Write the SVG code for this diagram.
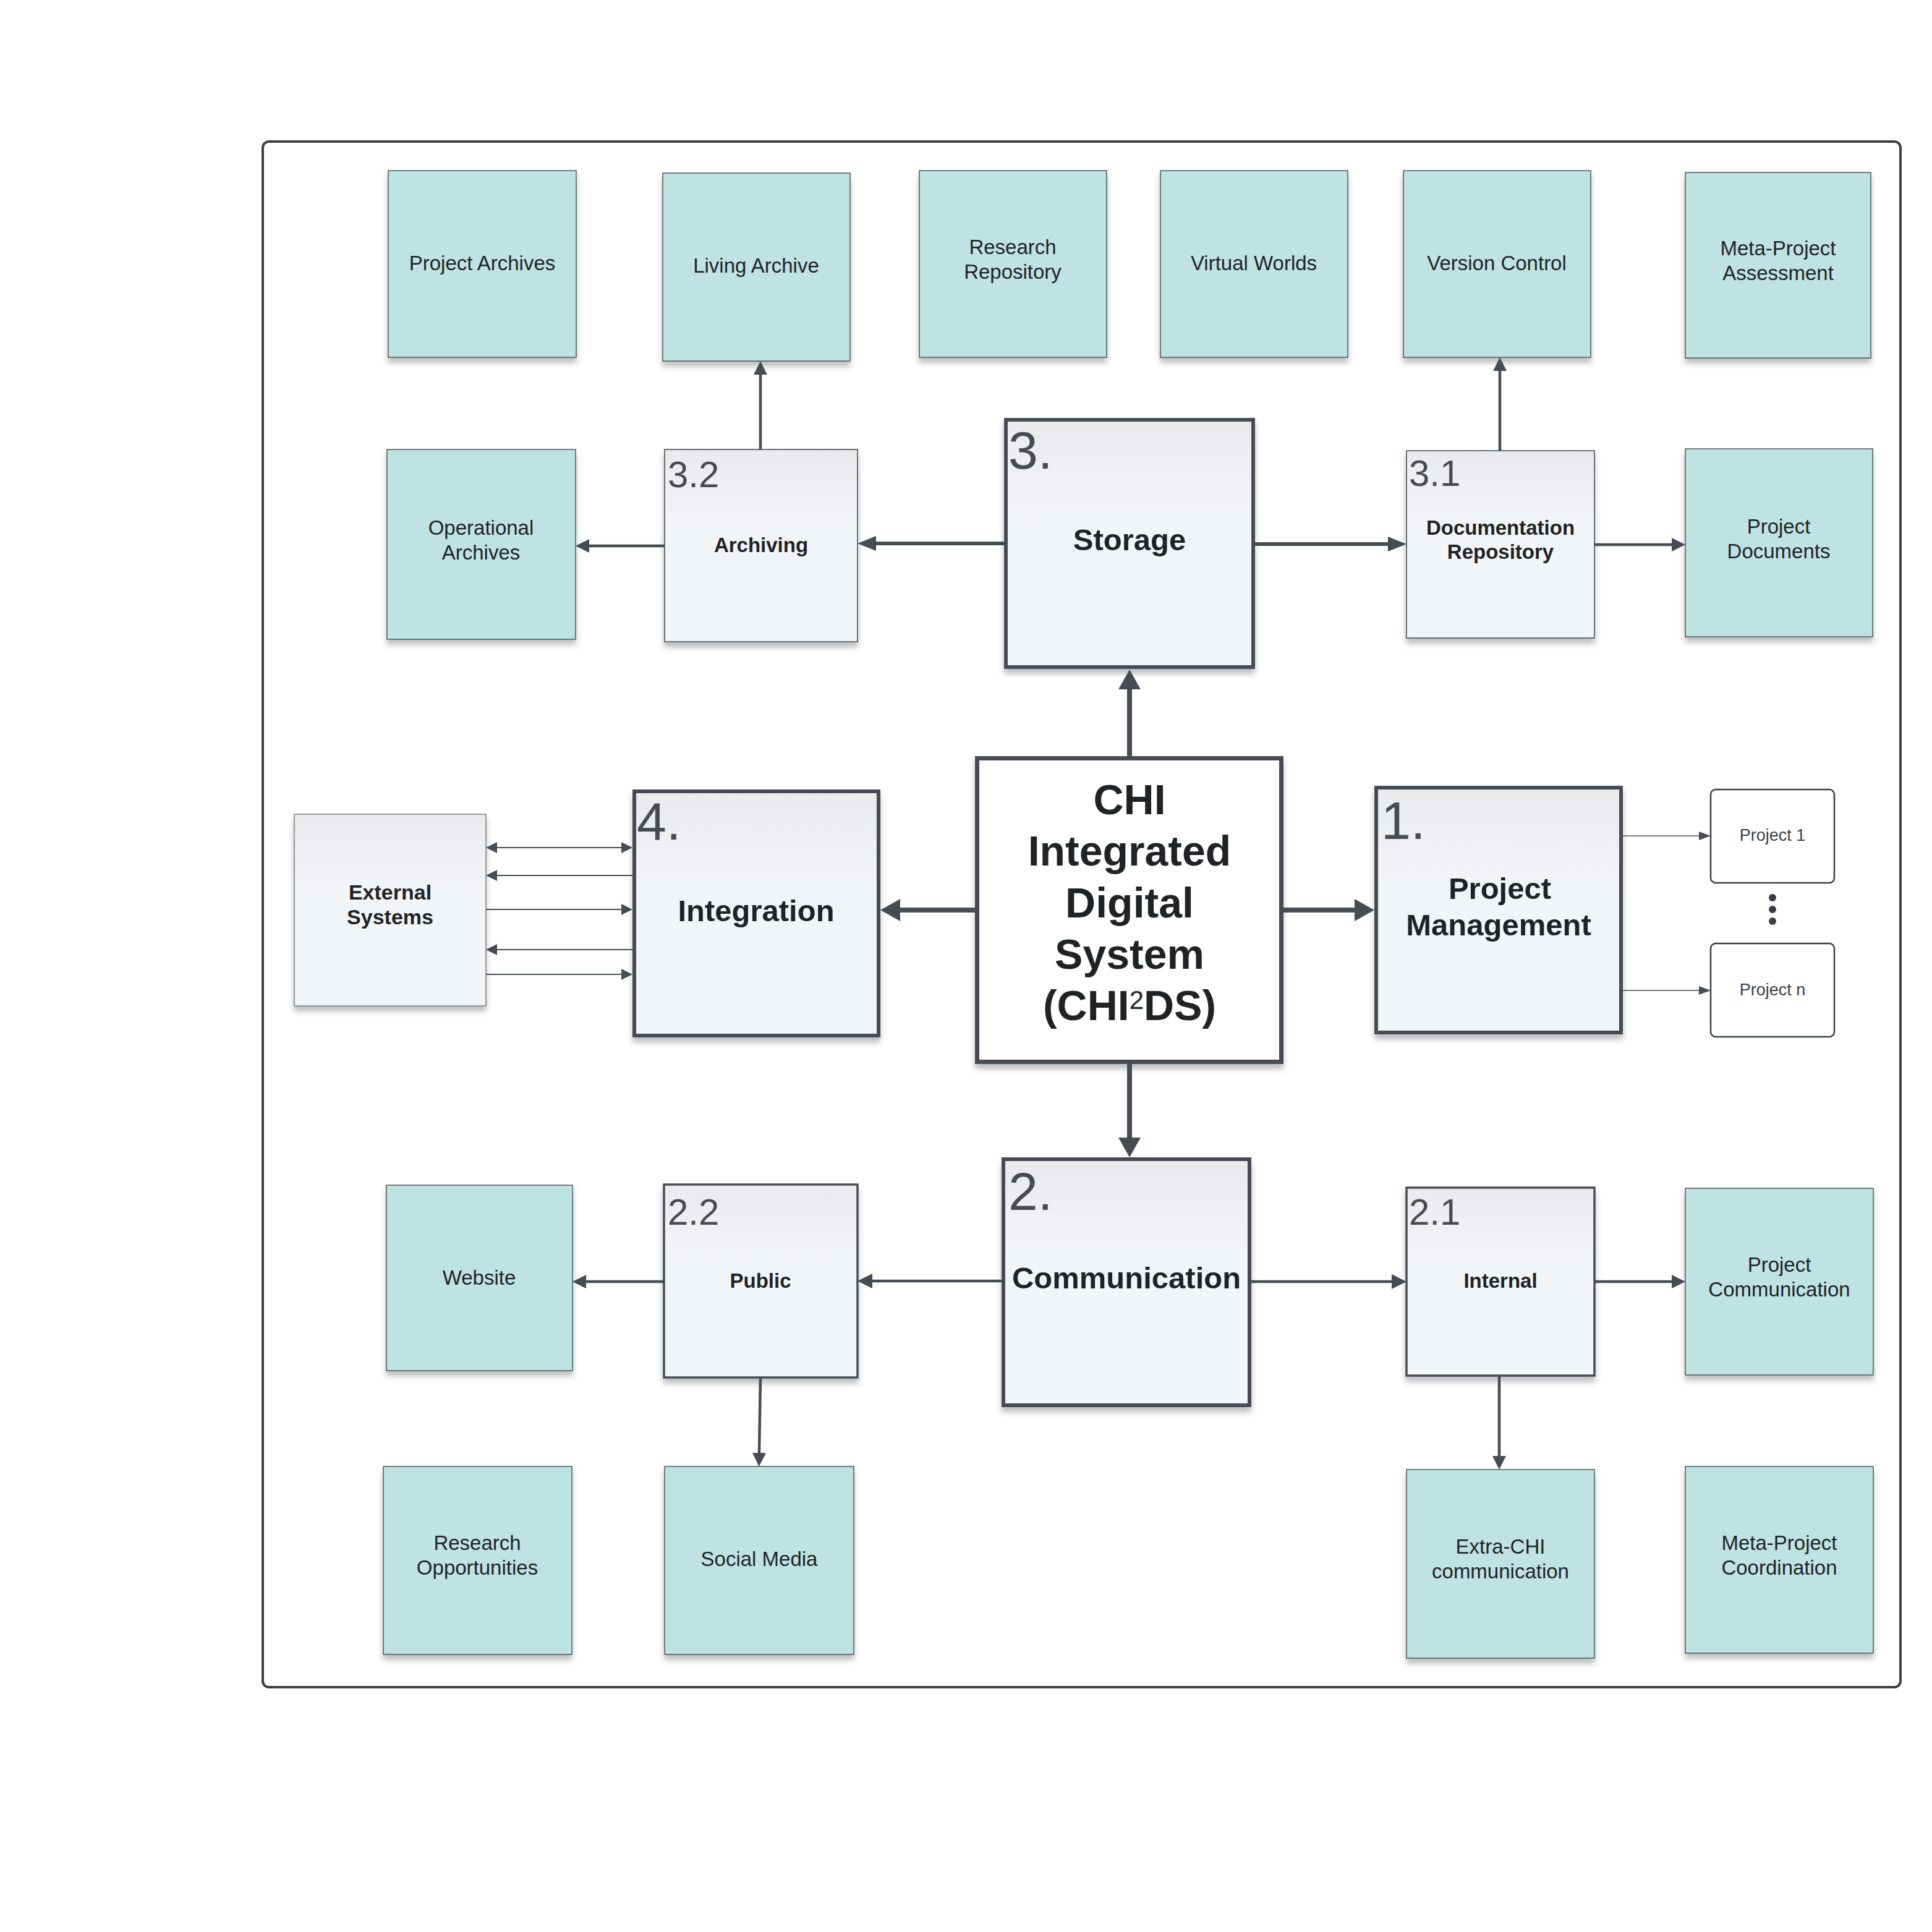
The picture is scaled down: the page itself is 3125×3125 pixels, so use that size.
<svg xmlns="http://www.w3.org/2000/svg" width="3125" height="3125" viewBox="0 0 3125 3125">
  <style>
    .teal { fill: #bfe3e2; stroke: #4d5a5c; stroke-width: 1.5; }
    .sub { fill: url(#panel); stroke: #6b7077; stroke-width: 2; }
    .subdark { fill: url(#panel); stroke: #474c54; stroke-width: 3.5; }
    .main { fill: url(#panel); stroke: #474c54; stroke-width: 6; }
    .core { fill: #ffffff; stroke: #474c54; stroke-width: 7; }
    .proj { fill: #ffffff; stroke: #3a3f45; stroke-width: 2.5; }
    .t { font-family: "Liberation Sans", Arial, sans-serif; fill: #1f2326; text-anchor: middle; }
    .leaf { font-size: 33px; }
    .lbl { font-size: 33px; font-weight: bold; }
    .big { font-size: 49px; font-weight: bold; }
    .core-t { font-size: 68px; font-weight: bold; }
    .num { font-family: "Liberation Sans", Arial, sans-serif; fill: #474c54; font-size: 86px; }
    .num-s { font-family: "Liberation Sans", Arial, sans-serif; fill: #474c54; font-size: 60px; }
    .small { font-size: 27px; fill: #3a3f45; }
    .ln { fill: none; stroke: #474c54; }
    .w8 { stroke-width: 8; }
    .w6 { stroke-width: 6; }
    .w4 { stroke-width: 4.5; }
    .w2 { stroke-width: 2; }
    .w15 { stroke-width: 1.5; }
  </style>
  <defs>
    <linearGradient id="panel" x1="0" y1="0" x2="0" y2="1">
      <stop offset="0" stop-color="#eaeaed"/>
      <stop offset="0.25" stop-color="#eff1f4"/>
      <stop offset="0.4" stop-color="#f2f5f8"/>
      <stop offset="1" stop-color="#f2f5f8"/>
    </linearGradient>
    <filter id="shadow" x="-10%" y="-10%" width="120%" height="130%">
      <feDropShadow dx="0" dy="8" stdDeviation="5" flood-color="#444" flood-opacity="0.35"/>
    </filter>
    <marker id="aXL" markerUnits="userSpaceOnUse" markerWidth="32" markerHeight="36" refX="0" refY="18" orient="auto">
      <path d="M0,0 L32,18 L0,36 Z" fill="#474c54"/>
    </marker>
    <marker id="aL" markerUnits="userSpaceOnUse" markerWidth="30" markerHeight="24" refX="0" refY="12" orient="auto">
      <path d="M0,0 L30,12 L0,24 Z" fill="#474c54"/>
    </marker>
    <marker id="aM" markerUnits="userSpaceOnUse" markerWidth="24" markerHeight="24" refX="0" refY="12" orient="auto">
      <path d="M0,0 L24,12 L0,24 Z" fill="#474c54"/>
    </marker>
    <marker id="aS" markerUnits="userSpaceOnUse" markerWidth="22" markerHeight="22" refX="0" refY="11" orient="auto">
      <path d="M0,0 L22,11 L0,22 Z" fill="#474c54"/>
    </marker>
    <marker id="aT" markerUnits="userSpaceOnUse" markerWidth="19" markerHeight="14" refX="0" refY="7" orient="auto">
      <path d="M0,0 L19,7 L0,14 Z" fill="#474c54"/>
    </marker>
    <marker id="aE" markerUnits="userSpaceOnUse" markerWidth="18" markerHeight="18" refX="0" refY="9" orient="auto-start-reverse">
      <path d="M0,0 L18,9 L0,18 Z" fill="#474c54"/>
    </marker>
  </defs>

  <rect width="3125" height="3125" fill="#ffffff"/>

  <!-- outer frame -->
  <rect id="frame" x="425" y="229" width="2649" height="2500" rx="10" fill="none" stroke="#3d3f42" stroke-width="4"/>

  <!-- leaf boxes: top row -->
  <g id="project-archives">
    <rect class="teal" x="628" y="276" width="304" height="302" filter="url(#shadow)"/>
    <text class="t leaf" x="780" y="437">Project Archives</text>
  </g>
  <g id="living-archive">
    <rect class="teal" x="1072" y="280" width="303" height="304" filter="url(#shadow)"/>
    <text class="t leaf" x="1223" y="441">Living Archive</text>
  </g>
  <g id="research-repository">
    <rect class="teal" x="1487" y="276" width="303" height="302" filter="url(#shadow)"/>
    <text class="t leaf" x="1638" y="411">Research</text>
    <text class="t leaf" x="1638" y="451">Repository</text>
  </g>
  <g id="virtual-worlds">
    <rect class="teal" x="1877" y="276" width="303" height="302" filter="url(#shadow)"/>
    <text class="t leaf" x="2028" y="437">Virtual Worlds</text>
  </g>
  <g id="version-control">
    <rect class="teal" x="2270" y="276" width="303" height="302" filter="url(#shadow)"/>
    <text class="t leaf" x="2421" y="437">Version Control</text>
  </g>
  <g id="meta-project-assessment">
    <rect class="teal" x="2726" y="279" width="300" height="300" filter="url(#shadow)"/>
    <text class="t leaf" x="2876" y="413">Meta-Project</text>
    <text class="t leaf" x="2876" y="453">Assessment</text>
  </g>

  <!-- second row -->
  <g id="operational-archives">
    <rect class="teal" x="626" y="727" width="305" height="307" filter="url(#shadow)"/>
    <text class="t leaf" x="778" y="865">Operational</text>
    <text class="t leaf" x="778" y="905">Archives</text>
  </g>
  <g id="archiving">
    <rect class="sub" x="1075" y="727" width="312" height="311" filter="url(#shadow)"/>
    <text class="num-s" x="1080" y="788">3.2</text>
    <text class="t lbl" x="1231" y="893">Archiving</text>
  </g>
  <g id="storage">
    <rect class="main" x="1627" y="679" width="400" height="400" filter="url(#shadow)"/>
    <text class="num" x="1631" y="758">3.</text>
    <text class="t big" x="1827" y="890">Storage</text>
  </g>
  <g id="documentation-repository">
    <rect class="sub" x="2275" y="729" width="304" height="303" filter="url(#shadow)"/>
    <text class="num-s" x="2279" y="786">3.1</text>
    <text class="t lbl" x="2427" y="865">Documentation</text>
    <text class="t lbl" x="2427" y="904">Repository</text>
  </g>
  <g id="project-documents">
    <rect class="teal" x="2726" y="726" width="303" height="304" filter="url(#shadow)"/>
    <text class="t leaf" x="2877" y="863">Project</text>
    <text class="t leaf" x="2877" y="903">Documents</text>
  </g>

  <!-- middle row -->
  <g id="external-systems">
    <rect x="476" y="1317" width="310" height="310" fill="url(#panel)" stroke="#7a7e84" stroke-width="1.5" filter="url(#shadow)"/>
    <text class="t" x="631" y="1455" font-size="34" font-weight="bold">External</text>
    <text class="t" x="631" y="1495" font-size="34" font-weight="bold">Systems</text>
  </g>
  <g id="integration">
    <rect class="main" x="1026" y="1280" width="395" height="395" filter="url(#shadow)"/>
    <text class="num" x="1030" y="1358">4.</text>
    <text class="t big" x="1223" y="1490">Integration</text>
  </g>
  <g id="chi2ds">
    <rect class="core" x="1580.5" y="1226.5" width="492" height="491" filter="url(#shadow)"/>
    <text class="t core-t" x="1827" y="1317">CHI</text>
    <text class="t core-t" x="1827" y="1400">Integrated</text>
    <text class="t core-t" x="1827" y="1484">Digital</text>
    <text class="t core-t" x="1827" y="1567">System</text>
    <text class="t core-t" x="1827" y="1650">(CHI<tspan font-size="42" font-weight="normal" dy="-18">2</tspan><tspan dy="18">DS)</tspan></text>
  </g>
  <g id="project-management">
    <rect class="main" x="2226" y="1274" width="396" height="396" filter="url(#shadow)"/>
    <text class="num" x="2234" y="1357">1.</text>
    <text class="t big" x="2426" y="1454">Project</text>
    <text class="t big" x="2424" y="1513">Management</text>
  </g>
  <g id="project-1">
    <rect class="proj" x="2767" y="1277" width="200" height="151" rx="8"/>
    <text class="t small" x="2867" y="1360">Project 1</text>
  </g>
  <g id="project-ellipsis" fill="#3a3f45">
    <circle cx="2867" cy="1452" r="6"/>
    <circle cx="2867" cy="1471" r="6"/>
    <circle cx="2867" cy="1490" r="6"/>
  </g>
  <g id="project-n">
    <rect class="proj" x="2767" y="1526" width="200" height="151" rx="8"/>
    <text class="t small" x="2867" y="1610">Project n</text>
  </g>

  <!-- lower row -->
  <g id="website">
    <rect class="teal" x="625" y="1917" width="301" height="300" filter="url(#shadow)"/>
    <text class="t leaf" x="775" y="2078">Website</text>
  </g>
  <g id="public">
    <rect class="subdark" x="1074" y="1916" width="313" height="312" filter="url(#shadow)"/>
    <text class="num-s" x="1080" y="1981">2.2</text>
    <text class="t lbl" x="1230" y="2083">Public</text>
  </g>
  <g id="communication">
    <rect class="main" x="1623" y="1875" width="398" height="398" filter="url(#shadow)"/>
    <text class="num" x="1631" y="1957">2.</text>
    <text class="t big" x="1822" y="2084">Communication</text>
  </g>
  <g id="internal">
    <rect class="subdark" x="2275" y="1921" width="304" height="304" filter="url(#shadow)"/>
    <text class="num-s" x="2279" y="1981">2.1</text>
    <text class="t lbl" x="2427" y="2083">Internal</text>
  </g>
  <g id="project-communication">
    <rect class="teal" x="2726" y="1922" width="304" height="302" filter="url(#shadow)"/>
    <text class="t leaf" x="2878" y="2057">Project</text>
    <text class="t leaf" x="2878" y="2097">Communication</text>
  </g>

  <!-- bottom row -->
  <g id="research-opportunities">
    <rect class="teal" x="620" y="2372" width="305" height="304" filter="url(#shadow)"/>
    <text class="t leaf" x="772" y="2507">Research</text>
    <text class="t leaf" x="772" y="2547">Opportunities</text>
  </g>
  <g id="social-media">
    <rect class="teal" x="1075" y="2372" width="306" height="304" filter="url(#shadow)"/>
    <text class="t leaf" x="1228" y="2533">Social Media</text>
  </g>
  <g id="extra-chi-communication">
    <rect class="teal" x="2275" y="2377" width="304" height="305" filter="url(#shadow)"/>
    <text class="t leaf" x="2427" y="2513">Extra-CHI</text>
    <text class="t leaf" x="2427" y="2553">communication</text>
  </g>
  <g id="meta-project-coordination">
    <rect class="teal" x="2726" y="2372" width="304" height="302" filter="url(#shadow)"/>
    <text class="t leaf" x="2878" y="2507">Meta-Project</text>
    <text class="t leaf" x="2878" y="2547">Coordination</text>
  </g>

  <!-- connectors -->
  <g id="connectors">
    <!-- core to the four functions -->
    <path class="ln w8" d="M1827,1223 V1115" marker-end="url(#aXL)"/>
    <path class="ln w8" d="M1827,1721 V1840" marker-end="url(#aXL)"/>
    <path class="ln w8" d="M1577,1472 H1456" marker-end="url(#aXL)"/>
    <path class="ln w8" d="M2076,1472 H2191" marker-end="url(#aXL)"/>
    <!-- storage branches -->
    <path class="ln w6" d="M1624,879 H1417" marker-end="url(#aL)"/>
    <path class="ln w6" d="M2030,880 H2245" marker-end="url(#aL)"/>
    <path class="ln w4" d="M1075,883 H953" marker-end="url(#aS)"/>
    <path class="ln w4" d="M1230,727 V606" marker-end="url(#aS)"/>
    <path class="ln w4" d="M2426,729 V600" marker-end="url(#aS)"/>
    <path class="ln w4" d="M2579,881 H2704" marker-end="url(#aS)"/>
    <!-- communication branches -->
    <path class="ln w4" d="M1620,2072 H1411" marker-end="url(#aM)"/>
    <path class="ln w4" d="M2024,2073 H2251" marker-end="url(#aM)"/>
    <path class="ln w4" d="M1074,2073 H948" marker-end="url(#aS)"/>
    <path class="ln w4" d="M1230,2228 L1228,2350" marker-end="url(#aS)"/>
    <path class="ln w4" d="M2425,2225 V2355" marker-end="url(#aS)"/>
    <path class="ln w4" d="M2579,2073 H2704" marker-end="url(#aS)"/>
    <!-- project management to projects -->
    <path class="ln w15" d="M2625,1352 H2748" marker-end="url(#aT)"/>
    <path class="ln w15" d="M2625,1602 H2748" marker-end="url(#aT)"/>
    <!-- external systems exchange -->
    <path class="ln w2" d="M804,1371 H1005" marker-start="url(#aE)" marker-end="url(#aE)"/>
    <path class="ln w2" d="M1023,1416 H804" marker-end="url(#aE)"/>
    <path class="ln w2" d="M786,1471 H1005" marker-end="url(#aE)"/>
    <path class="ln w2" d="M1023,1536 H804" marker-end="url(#aE)"/>
    <path class="ln w2" d="M786,1576 H1005" marker-end="url(#aE)"/>
  </g>
</svg>
